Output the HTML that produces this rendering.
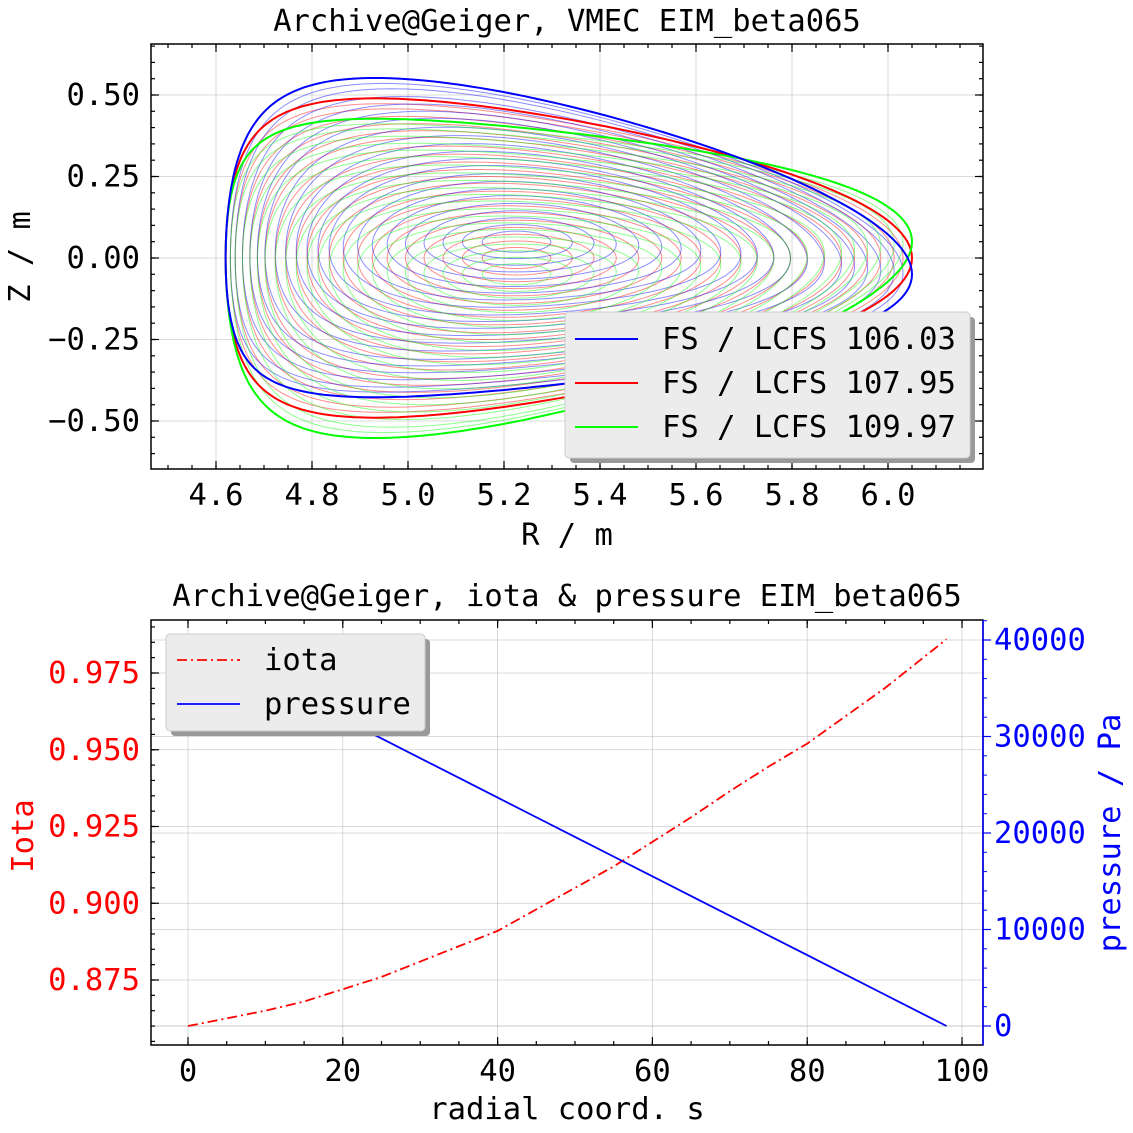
<!DOCTYPE html>
<html><head><meta charset="utf-8">
<style>
body{margin:0;background:#fff;}
svg{display:block;font-family:"DejaVu Sans Mono","Liberation Mono",monospace;}
</style></head>
<body>
<svg id="c" width="1133" height="1133" viewBox="0 0 1133 1133" xmlns="http://www.w3.org/2000/svg"></svg>
<script>
// ---- data: flux-surface shape parameters (per colour set) ----
const fsLabels = ["FS / LCFS 106.03","FS / LCFS 107.95","FS / LCFS 109.97"];
const fsColors = ["#0000ff","#ff0000","#00ff00"];
const fsAxisZ = [0.05, 0.0, -0.05];
const fsTopShift = [0.0625, 0.0, -0.0625];
const fsTipShift = [-0.05, 0.0, 0.05];
const fsAxisR = [5.225, 5.225, 5.225];
const fsEdgeR = [5.335, 5.335, 5.335];
const fsMinorA = [0.715, 0.715, 0.715];
const fsKappaIn = [0.45, 0.45, 0.45];
const fsKappaOut = [0.685, 0.685, 0.685];
const fsDelta = [0.6, 0.6, 0.6];
const fsRho = [0.1,0.16,0.22,0.28,0.34,0.4,0.45,0.5,0.55,0.6,0.64,0.68,0.72,0.76,0.8,0.84,0.87,0.9,0.93,0.96,0.98];
const rTicks = [4.6,4.8,5.0,5.2,5.4,5.6,5.8,6.0];
const zTicks = [-0.5,-0.25,0,0.25,0.5];
// bottom chart
const sVals = [0,5,10,15,20,25,30,35,40,45,50,55,60,65,70,75,80,85,90,95,98];
const iotaVals = [0.860,0.8625,0.865,0.868,0.872,0.876,0.881,0.886,0.891,0.898,0.905,0.912,0.920,0.928,0.9365,0.9445,0.952,0.961,0.970,0.980,0.986];
const presVals = [40000,37959,35918,33878,31837,29796,27755,25714,23673,21633,19592,17551,15510,13469,11429,9388,7347,5306,3265,1224,0];
const sTicks = [0,20,40,60,80,100];
const iotaTicks = [0.875,0.900,0.925,0.950,0.975];
const presTicks = [0,10000,20000,30000,40000];

const NS="http://www.w3.org/2000/svg";
const svg=document.getElementById('c');
const FS=30.5;
function mk(tag,attrs,parent){const e=document.createElementNS(NS,tag);for(const k in attrs)e.setAttribute(k,attrs[k]);(parent||svg).appendChild(e);return e;}

// ---- top axes ----
const T={x0:151,x1:983,y0:44,y1:469};
const rx=v=>216+(v-4.6)*480;
const zy=v=>258-v*326;
const gTop=mk('g',{});


rTicks.forEach(t=>{mk('line',{x1:rx(t),x2:rx(t),y1:T.y0,y2:T.y1,stroke:'#bbb','stroke-width':0.8,opacity:0.7},gTop);});
zTicks.forEach(t=>{mk('line',{x1:T.x0,x2:T.x1,y1:zy(t),y2:zy(t),stroke:'#bbb','stroke-width':0.8,opacity:0.7},gTop);});
function surf(ci,rho){
  const a=fsMinorA[ci]*rho, R0=fsAxisR[ci]+(fsEdgeR[ci]-fsAxisR[ci])*rho*rho;
  const k=fsKappaIn[ci]+(fsKappaOut[ci]-fsKappaIn[ci])*rho*rho, d=fsDelta[ci]*rho*rho;
  let p='';
  for(let i=0;i<=240;i++){const th=2*Math.PI*i/240;
    const R=R0+a*Math.cos(th+d*Math.sin(th));
    const c=Math.max(Math.cos(th),0);
    const Z=k*a*Math.sin(th)+fsAxisZ[ci]*(1-rho*rho)+fsTopShift[ci]*rho*rho*Math.sin(th)**2+fsTipShift[ci]*rho*rho*c*c*c;
    p+=(i?'L':'M')+rx(R).toFixed(1)+' '+zy(Z).toFixed(1);}
  return p+'Z';
}
[1,0,2].forEach(ci=>{
  fsRho.forEach(r=>{const e=mk('path',{d:surf(ci,r),fill:'none',stroke:fsColors[ci],'stroke-width':1,opacity:0.45},gTop);
    });
});
[1,2,0].forEach(ci=>{const e=mk('path',{d:surf(ci,1),fill:'none',stroke:fsColors[ci],'stroke-width':2},gTop);
  });
mk('rect',{x:T.x0,y:T.y0,width:T.x1-T.x0,height:T.y1-T.y0,fill:'none',stroke:'#000','stroke-width':1.5},gTop);
function ticksX(g,box,pos,minor,len){pos.forEach(x=>{mk('line',{x1:x,x2:x,y1:box.y1,y2:box.y1-len,stroke:'#000','stroke-width':1.2},g);mk('line',{x1:x,x2:x,y1:box.y0,y2:box.y0+len,stroke:'#000','stroke-width':1.2},g);});}
function ticksY(g,box,pos,len,side){pos.forEach(y=>{if(side!=='r')mk('line',{x1:box.x0,x2:box.x0+len,y1:y,y2:y,stroke:'#000','stroke-width':1.2},g);if(side!=='l')mk('line',{x1:box.x1,x2:box.x1-len,y1:y,y2:y,stroke:'#000','stroke-width':1.2},g);});}
ticksX(gTop,T,rTicks.map(rx),0,8);
let mn=[];for(let v=4.5;v<=6.15;v+=0.05)mn.push(rx(v));mn=mn.filter(x=>x>T.x0&&x<T.x1);ticksX(gTop,T,mn,0,4);
ticksY(gTop,T,zTicks.map(zy),8);
mn=[];for(let v=-0.6;v<=0.65;v+=0.05)mn.push(zy(v));mn=mn.filter(y=>y>T.y0&&y<T.y1);ticksY(gTop,T,mn,4);
rTicks.forEach(t=>{const e=mk('text',{x:rx(t),y:505,'font-size':FS,'text-anchor':'middle'},gTop);e.textContent=t.toFixed(1);});
zTicks.forEach(t=>{const e=mk('text',{x:140,y:zy(t)+10,'font-size':FS,'text-anchor':'end'},gTop);e.textContent=(t<0?'\u2212':'')+Math.abs(t).toFixed(2);});
let e=mk('text',{x:567,y:545,'font-size':FS,'text-anchor':'middle'});e.textContent='R / m';
e=mk('text',{x:0,y:0,'font-size':FS,'text-anchor':'middle',transform:'translate(30,257) rotate(-90)'});e.textContent='Z / m';
e=mk('text',{x:567,y:31,'font-size':FS,'text-anchor':'middle'});e.textContent='Archive@Geiger, VMEC EIM_beta065';
const lg=mk('g',{});
mk('rect',{x:570,y:317,width:405,height:146,rx:4,fill:'#999'},lg);
mk('rect',{x:565,y:312,width:405,height:146,rx:4,fill:'#ececec',stroke:'#ccc'},lg);
fsLabels.forEach((l,i)=>{const y=339+i*44;mk('line',{x1:575,x2:638,y1:y,y2:y,stroke:fsColors[i],'stroke-width':2},lg);
  const t=mk('text',{x:662,y:y+10,'font-size':FS},lg);t.textContent=l;});

// ---- bottom axes ----
const B={x0:151,x1:983,y0:620,y1:1045};
const sx=v=>188+v*7.74;
const iy=v=>980-(v-0.875)*3070;
const py=v=>1026-v*0.00965;
const gB=mk('g',{});
sTicks.forEach(t=>mk('line',{x1:sx(t),x2:sx(t),y1:B.y0,y2:B.y1,stroke:'#bbb','stroke-width':0.8,opacity:0.7},gB));
[0.86,0.875,0.9,0.925,0.95,0.975].forEach(t=>mk('line',{x1:B.x0,x2:B.x1,y1:iy(t),y2:iy(t),stroke:'#bbb','stroke-width':0.8,opacity:0.7},gB));
presTicks.forEach(t=>mk('line',{x1:B.x0,x2:B.x1,y1:py(t),y2:py(t),stroke:'#bbb','stroke-width':0.8,opacity:0.7},gB));
e=mk('path',{d:sVals.map((s,i)=>(i?'L':'M')+sx(s)+' '+iy(iotaVals[i])).join(''),fill:'none',stroke:'#ff0000','stroke-width':1.8,'stroke-dasharray':'10 4 2 4'},gB);
e=mk('path',{d:sVals.map((s,i)=>(i?'L':'M')+sx(s)+' '+py(presVals[i])).join(''),fill:'none',stroke:'#0000ff','stroke-width':1.8},gB);
mk('rect',{x:B.x0,y:B.y0,width:B.x1-B.x0,height:B.y1-B.y0,fill:'none',stroke:'#000','stroke-width':1.5},gB);
mk('line',{x1:B.x1,x2:B.x1,y1:B.y0,y2:B.y1,stroke:'#0000ff','stroke-width':1.5},gB);
ticksX(gB,B,sTicks.map(sx),0,8);
mn=[];for(let v=-5;v<=105;v+=5)mn.push(sx(v));mn=mn.filter(x=>x>B.x0&&x<B.x1);ticksX(gB,B,mn,0,4);
ticksY(gB,B,iotaTicks.map(iy),8,'l');
mn=[];for(let v=0.855;v<=0.995;v+=0.005)mn.push(iy(v));mn=mn.filter(y=>y>B.y0&&y<B.y1);ticksY(gB,B,mn,4,'l');
presTicks.forEach(t=>mk('line',{x1:B.x1,x2:B.x1+8,y1:py(t),y2:py(t),stroke:'#0000ff','stroke-width':1.2},gB));
for(let v=0;v<=42000;v+=2000)mk('line',{x1:B.x1,x2:B.x1+4,y1:py(v),y2:py(v),stroke:'#0000ff','stroke-width':1},gB);
sTicks.forEach(t=>{const e=mk('text',{x:sx(t),y:1081,'font-size':FS,'text-anchor':'middle'},gB);e.textContent=t;});
iotaTicks.forEach(t=>{const e=mk('text',{x:140,y:iy(t)+10,'font-size':FS,'text-anchor':'end',fill:'#ff0000'},gB);e.textContent=t.toFixed(3);});
presTicks.forEach(t=>{const e=mk('text',{x:994,y:py(t)+10,'font-size':FS,fill:'#0000ff'},gB);e.textContent=t;});
e=mk('text',{x:567,y:1119,'font-size':FS,'text-anchor':'middle'});e.textContent='radial coord. s';
e=mk('text',{x:0,y:0,'font-size':FS,'text-anchor':'middle',fill:'#ff0000',transform:'translate(33,836) rotate(-90)'});e.textContent='Iota';
e=mk('text',{x:0,y:0,'font-size':FS,'text-anchor':'middle',fill:'#0000ff',transform:'translate(1120,833) rotate(-90)'});e.textContent='pressure / Pa';
e=mk('text',{x:567,y:606,'font-size':FS,'text-anchor':'middle'});e.textContent='Archive@Geiger, iota & pressure EIM_beta065';
const lb=mk('g',{});
mk('rect',{x:171,y:639,width:259,height:97,rx:4,fill:'#999'},lb);
mk('rect',{x:166,y:634,width:259,height:97,rx:4,fill:'#ececec',stroke:'#ccc'},lb);
mk('line',{x1:177,x2:240,y1:660,y2:660,stroke:'#ff0000','stroke-width':1.8,'stroke-dasharray':'10 4 2 4'},lb);
mk('line',{x1:177,x2:240,y1:704,y2:704,stroke:'#0000ff','stroke-width':1.8},lb);
e=mk('text',{x:264,y:670,'font-size':FS},lb);e.textContent='iota';
e=mk('text',{x:264,y:714,'font-size':FS},lb);e.textContent='pressure';
</script>
</body></html>
